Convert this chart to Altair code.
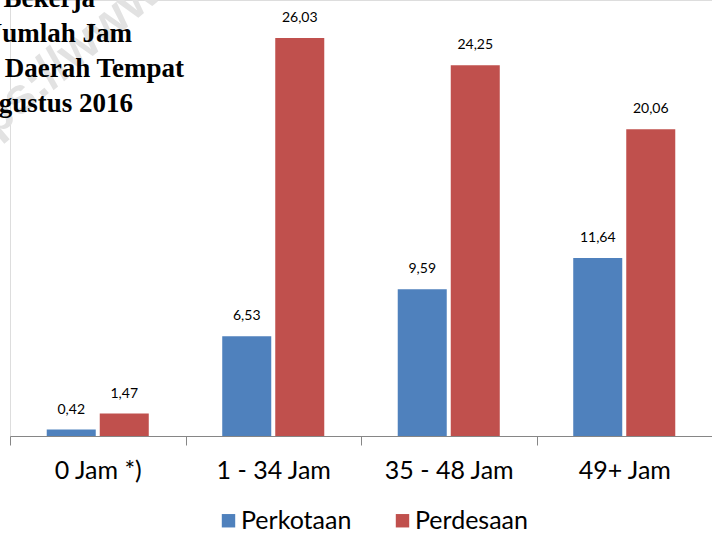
import altair as alt
import pandas as pd

categories = ["0 Jam *)", "1 - 34 Jam", "35 - 48 Jam", "49+ Jam"]
series = ["Perkotaan", "Perdesaan"]
perkotaan = [0.42, 6.53, 9.59, 11.64]
perdesaan = [1.47, 26.03, 24.25, 20.06]
colors = ["#4F81BD", "#C0504D"]
title_lines = ["Bekerja", "Jumlah Jam", "Daerah Tempat", "gustus 2016"]
watermark = "ps://www.bps.go.id"

rows = []
for s, vals in zip(series, [perkotaan, perdesaan]):
    for c, v in zip(categories, vals):
        rows.append({"category": c, "series": s, "value": v,
                     "label": f"{v:.2f}".replace(".", ",")})
df = pd.DataFrame(rows)

x = alt.X("category:N", sort=categories,
          scale=alt.Scale(paddingInner=0, paddingOuter=0),
          axis=alt.Axis(title=None, labelAngle=0, labelFont="Lato", labelFontSize=25,
                        labelColor="#000000", domainColor="#868686", tickColor="#868686",
                        tickSize=9, tickBand="extent", labelPadding=13, grid=False))
xo = alt.XOffset("series:N", sort=series,
                 scale=alt.Scale(paddingInner=0.0755, paddingOuter=0.693))
y = alt.Y("value:Q", scale=alt.Scale(domain=[0, 28.51], nice=False, zero=True), axis=None)

bars = alt.Chart(df).mark_bar().encode(
    x=x, xOffset=xo, y=y,
    color=alt.Color("series:N", sort=series,
                    scale=alt.Scale(domain=series, range=colors),
                    legend=alt.Legend(title=None, orient="none", legendX=206, legendY=508,
                                      direction="horizontal", symbolType="square",
                                      symbolSize=180, symbolStrokeWidth=0,
                                      labelFont="Lato", labelFontSize=25,
                                      labelColor="#000000", columnPadding=38,
                                      labelOffset=0, padding=0)),
)

labels = alt.Chart(df).mark_text(baseline="middle", dy=-20, font="Lato", fontSize=14,
                                 color="#000000").encode(
    x=x, xOffset=xo, y=y, text="label:N")

wm = alt.Chart(pd.DataFrame({"t": [watermark]})).mark_text(
    angle=320, align="left", baseline="alphabetic", font="Liberation Sans",
    fontWeight="bold", fontSize=50, color="#e2e2e2").encode(
    x=alt.value(-15), y=alt.value(138), text="t:N")

title_pos = [(85, 7), (122, 42), (174, 77), (123, 112)]
title_layers = []
for line, (px, py) in zip(title_lines, title_pos):
    title_layers.append(
        alt.Chart(pd.DataFrame({"t": [line]})).mark_text(
            align="right", baseline="alphabetic", font="Liberation Serif",
            fontWeight="bold", fontSize=27, color="#000000").encode(
            x=alt.value(px), y=alt.value(py), text="t:N"))

chart = alt.layer(wm, bars, labels, *title_layers).properties(
    width=702, height=436,
    autosize=alt.AutoSizeParams(type="none"),
    padding={"left": 10, "top": 0, "right": 0, "bottom": 102},
).configure_view(stroke=None).configure(background="white")

chart.save("out.html", embed_options={"renderer": "svg", "actions": False})
